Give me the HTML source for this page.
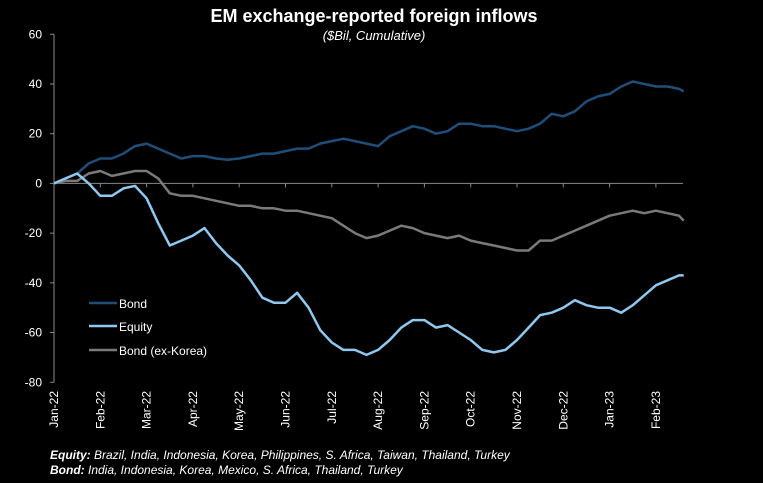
<!DOCTYPE html>
<html><head><meta charset="utf-8"><style>
html,body{margin:0;padding:0;background:#000;width:763px;height:483px;overflow:hidden}
svg{display:block;font-family:"Liberation Sans",Arial,sans-serif}
</style></head><body>
<svg id="chart" width="763" height="483" viewBox="0 0 763 483">
<rect width="763" height="483" fill="#000"/>
<text x="374" y="22" text-anchor="middle" fill="#fff" font-size="18" font-weight="bold">EM exchange-reported foreign inflows</text>
<text x="374" y="40" text-anchor="middle" fill="#fff" font-size="13" font-style="italic">($Bil, Cumulative)</text>
<g id="axes"></g>
<g id="series"></g>
<g>
<line x1="89" y1="303" x2="117" y2="303" stroke="#1f4e79" stroke-width="2.5"/>
<text x="119" y="308" fill="#fff" font-size="12">Bond</text>
<line x1="89" y1="326" x2="117" y2="326" stroke="#8ec8ee" stroke-width="2.5"/>
<text x="119" y="331" fill="#fff" font-size="12">Equity</text>
<line x1="89" y1="350" x2="117" y2="350" stroke="#7a7a7a" stroke-width="2.5"/>
<text x="119" y="355" fill="#fff" font-size="12">Bond (ex-Korea)</text>
</g>
<text x="50" y="459" fill="#fff" font-size="12" font-style="italic"><tspan font-weight="bold">Equity:</tspan> Brazil, India, Indonesia, Korea, Philippines, S. Africa, Taiwan, Thailand, Turkey</text>
<text x="50" y="474" fill="#fff" font-size="12" font-style="italic"><tspan font-weight="bold">Bond:</tspan> India, Indonesia, Korea, Mexico, S. Africa, Thailand, Turkey</text>
</svg>
<script>
const months=["Jan-22","Feb-22","Mar-22","Apr-22","May-22","Jun-22","Jul-22","Aug-22","Sep-22","Oct-22","Nov-22","Dec-22","Jan-23","Feb-23"];
const yTicks=[60,40,20,0,-20,-40,-60,-80];
const tPos=[0,0.25,0.5,0.75,1,1.25,1.5,1.75,2,2.25,2.5,2.75,3,3.25,3.5,3.75,4,4.25,4.5,4.75,5,5.25,5.5,5.75,6,6.25,6.5,6.75,7,7.25,7.5,7.75,8,8.25,8.5,8.75,9,9.25,9.5,9.75,10,10.25,10.5,10.75,11,11.25,11.5,11.75,12,12.25,12.5,12.75,13,13.25,13.5,13.6];
const bond=[0,2,4,8,10,10,12,15,16,14,12,10,11,11,10,9.5,10,11,12,12,13,14,14,16,17,18,17,16,15,19,21,23,22,20,21,24,24,23,23,22,21,22,24,28,27,29,33,35,36,39,41,40,39,39,38,37];
const equity=[0,2,4,0,-5,-5,-2,-1,-6,-16,-25,-23,-21,-18,-24,-29,-33,-39,-46,-48,-48,-44,-50,-59,-64,-67,-67,-69,-67,-63,-58,-55,-55,-58,-57,-60,-63,-67,-68,-67,-63,-58,-53,-52,-50,-47,-49,-50,-50,-52,-49,-45,-41,-39,-37,-37];
const bondExKorea=[0,1,1,4,5,3,4,5,5,2,-4,-5,-5,-6,-7,-8,-9,-9,-10,-10,-11,-11,-12,-13,-14,-17,-20,-22,-21,-19,-17,-18,-20,-21,-22,-21,-23,-24,-25,-26,-27,-27,-23,-23,-21,-19,-17,-15,-13,-12,-11,-12,-11,-12,-13,-15];
const NS="http://www.w3.org/2000/svg";
const x0=54,mW=46.3,xEnd=683;
function xs(t){return x0+t*mW;}
function ys(v){return 183.4-v*(348/140);}
const axes=document.getElementById('axes');
function mk(tag,attrs,parent){const e=document.createElementNS(NS,tag);for(const k in attrs)e.setAttribute(k,attrs[k]);parent.appendChild(e);return e;}
const yAxis=mk('line',{x1:x0,y1:ys(60),x2:x0,y2:ys(-80),stroke:'#888','stroke-width':1},axes);


yTicks.forEach(v=>{
  const tk=mk('line',{x1:x0-4,y1:ys(v),x2:x0,y2:ys(v),stroke:'#888'},axes);
  
  
  const t=mk('text',{x:x0-12,y:ys(v)+4,'text-anchor':'end',fill:'#fff','font-size':12},axes);
  t.textContent=v;
  
  
});
const xAxis=mk('line',{x1:x0,y1:ys(0),x2:xEnd,y2:ys(0),stroke:'#888','stroke-width':1},axes);


months.forEach((m,i)=>{
  const x=xs(i);
  const tk=mk('line',{x1:x,y1:ys(0),x2:x,y2:ys(0)+4,stroke:'#888'},axes);
  
  
  const t=mk('text',{x:0,y:0,'text-anchor':'end',fill:'#fff','font-size':12,transform:`translate(${x+4},391) rotate(-90)`},axes);
  t.textContent=m;
  
  
});
const ser=document.getElementById('series');
function line(data,color,name){
  const d=data.map((v,i)=>(i?'L':'M')+xs(tPos[i]).toFixed(1)+','+ys(v).toFixed(1)).join('');
  const p=mk('path',{d:d,fill:'none',stroke:color,'stroke-width':2.5,'stroke-linejoin':'round'},ser);
  
  
}
line(bondExKorea,'#7a7a7a','bond-ex-korea-line');
line(bond,'#1f4e79','bond-line');
line(equity,'#8ec8ee','equity-line');
</script>
</body></html>
